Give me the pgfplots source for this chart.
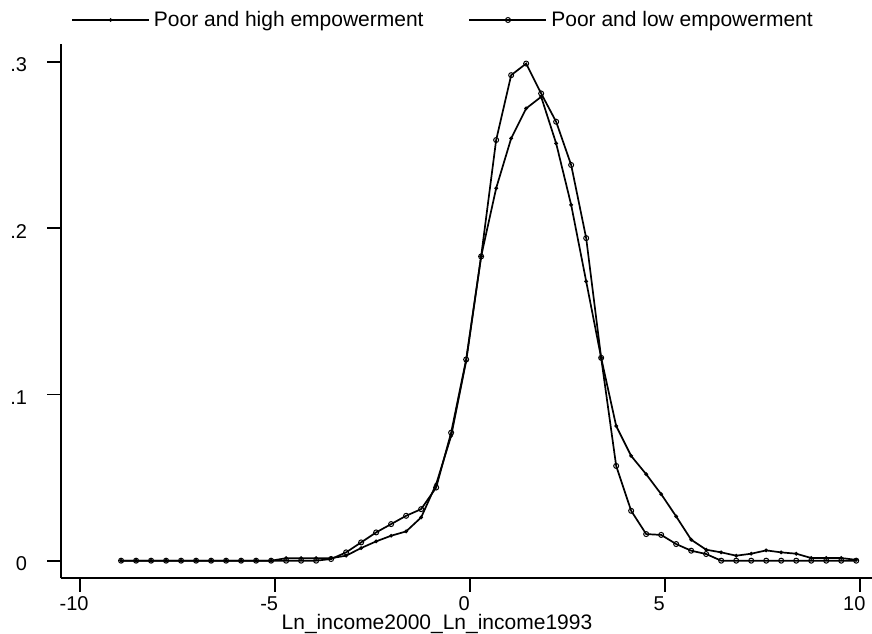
\documentclass[border=0pt]{standalone}
\usepackage{fontspec}
\setmainfont{Liberation Sans}
\usepackage{pgfplots}
\usepackage{pgfplotstable}
\pgfplotsset{compat=1.18}

% kernel density estimates, 50 grid points
\pgfplotstableread{
x       high    low
-8.950  0.0000  0.0000
-8.565  0.0000  0.0000
-8.181  0.0000  0.0000
-7.796  0.0000  0.0000
-7.412  0.0000  0.0000
-7.027  0.0000  0.0000
-6.642  0.0000  0.0000
-6.258  0.0000  0.0000
-5.873  0.0000  0.0000
-5.489  0.0000  0.0000
-5.104  0.0000  0.0000
-4.719  0.0015  0.0000
-4.335  0.0015  0.0000
-3.950  0.0015  0.0000
-3.566  0.0015  0.0010
-3.181  0.0030  0.0050
-2.796  0.0076  0.0110
-2.412  0.0116  0.0170
-2.027  0.0150  0.0220
-1.643  0.0176  0.0270
-1.258  0.0260  0.0310
-0.873  0.0460  0.0440
-0.489  0.0750  0.0770
-0.104  0.1200  0.1210
0.280   0.1830  0.1830
0.665   0.2240  0.2530
1.050   0.2540  0.2920
1.434   0.2720  0.2990
1.819   0.2790  0.2810
2.203   0.2510  0.2640
2.588   0.2140  0.2380
2.973   0.1680  0.1940
3.357   0.1220  0.1220
3.742   0.0810  0.0570
4.126   0.0630  0.0300
4.511   0.0520  0.0160
4.896   0.0400  0.0155
5.280   0.0266  0.0100
5.665   0.0126  0.0060
6.049   0.0066  0.0040
6.434   0.0050  0.0000
6.819   0.0030  0.0000
7.203   0.0042  0.0000
7.588   0.0062  0.0000
7.972   0.0050  0.0000
8.357   0.0042  0.0000
8.742   0.0016  0.0000
9.126   0.0016  0.0000
9.511   0.0016  0.0000
9.895   0.0005  0.0000
}\densities

\begin{document}
\begin{tikzpicture}
\useasboundingbox (0,0) rectangle (436pt,316.5pt);
\begin{axis}[
  at={(30.5pt,27.35pt)}, anchor=south west,
  width=405.5pt, height=267.35pt, scale only axis,
  xmin=-10.49, xmax=10.3,
  ymin=-0.0106, ymax=0.311,
  axis x line*=bottom, axis y line*=left,
  axis line style={-, line width=0.85pt},
  xtick={-10,-5,0,5,10}, xticklabels={-10,-5,0,5,10},
  ytick={0,0.1,0.2,0.3}, yticklabels={0,.1,.2,.3},
  tick align=outside, major tick length=6.8pt,
  tick style={line width=0.85pt, black},
  ticklabel style={font=\fontsize{10}{12}\selectfont},
  xticklabel style={xshift=-3pt, yshift=1.3pt},
  yticklabel style={xshift=-6.7pt, yshift=-1.5pt},
  xlabel={Ln\_income2000\_Ln\_income1993},
  xlabel style={font=\fontsize{10.5}{12}\selectfont, at={(axis description cs:0.5,0)},
    anchor=base, yshift=-25.8pt, xshift=-14.75pt},
  legend columns=2,
  legend style={draw=none, fill=none, at={(0.4723,1)}, anchor=center, yshift=11.8pt,
    font=\fontsize{10.5}{12}\selectfont, cells={anchor=west},
    /tikz/every even column/.append style={column sep=20.5pt}},
  legend image code/.code={
    \draw[mark repeat=2, mark phase=2, #1] plot coordinates {(0pt,0pt) (19.25pt,0pt) (38.5pt,0pt)};
  },
]
\addplot[black, line width=0.85pt, mark=*, mark size=0.45pt] table[x=x, y=high] {\densities};
\addlegendentry{Poor and high empowerment}
\addplot[black, line width=0.85pt, mark=o, mark size=1.25pt, mark options={line width=0.5pt}] table[x=x, y=low] {\densities};
\addlegendentry{Poor and low empowerment}
\end{axis}
\end{tikzpicture}
\end{document}
